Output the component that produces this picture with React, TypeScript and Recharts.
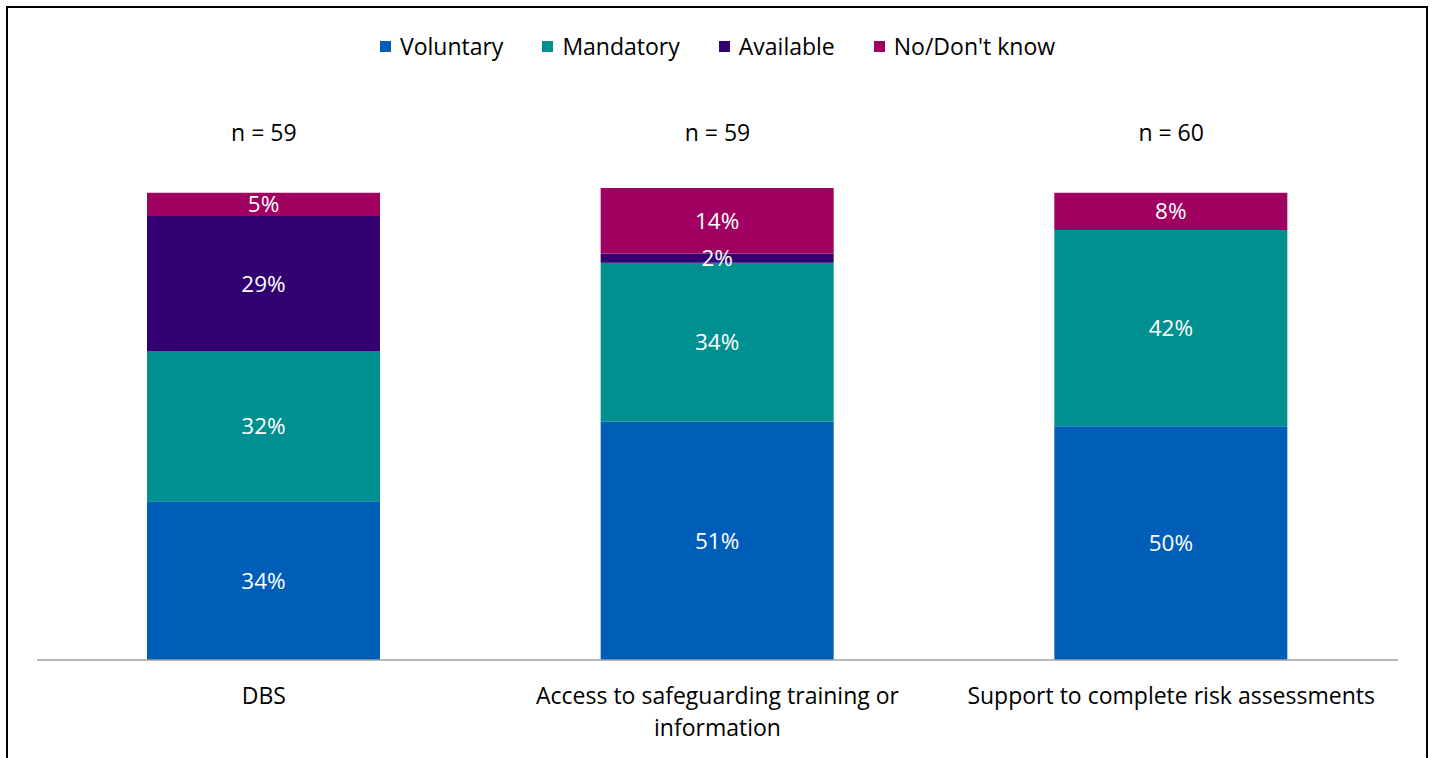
import { BarChart, Bar, XAxis, YAxis, Legend, LabelList } from "recharts";

// Survey results, % of respondents
const categories = [
  "DBS",
  "Access to safeguarding training or information",
  "Support to complete risk assessments",
];
const sampleSizes = ["n = 59", "n = 59", "n = 60"];
const voluntary = [34, 51, 50];
const mandatory = [32, 34, 42];
const available = [29, 2, 0];
const noDontKnow = [5, 14, 8];

const FONT = "'Open Sans', Lato, sans-serif";
const FONT_SIZE = 23;

const SERIES = [
  { key: "voluntary", name: "Voluntary", color: "#005EB8" },
  { key: "mandatory", name: "Mandatory", color: "#00908F" },
  { key: "available", name: "Available", color: "#330072" },
  { key: "noDontKnow", name: "No/Don't know", color: "#A00060" },
];

const data = categories.map((name, i) => ({
  name,
  n: sampleSizes[i],
  voluntary: voluntary[i],
  mandatory: mandatory[i],
  available: available[i],
  noDontKnow: noDontKnow[i],
}));

// greedy word wrap by character count
function wrapWords(text: string, maxChars: number): string[] {
  const lines: string[] = [];
  let cur = "";
  text.split(" ").forEach((w) => {
    const next = cur ? `${cur} ${w}` : w;
    if (next.length > maxChars && cur) {
      lines.push(cur);
      cur = w;
    } else {
      cur = next;
    }
  });
  if (cur) lines.push(cur);
  return lines;
}

function ChartLegend() {
  return (
    <div
      style={{
        height: 76,
        display: "flex",
        justifyContent: "center",
        alignItems: "center",
        gap: 39,
        fontFamily: FONT,
        fontSize: FONT_SIZE,
        color: "#000",
      }}
    >
      {SERIES.map((s) => (
        <div key={s.key} style={{ display: "flex", alignItems: "center", gap: 9 }}>
          <div style={{ width: 11, height: 11, backgroundColor: s.color }} />
          <span>{s.name}</span>
        </div>
      ))}
    </div>
  );
}

function CategoryTick({ x, y, payload }: any) {
  const lines = wrapWords(String(payload.value), 36);
  return (
    <text
      x={x}
      y={y}
      textAnchor="middle"
      fill="#000"
      fontSize={FONT_SIZE}
      fontFamily={FONT}
    >
      {lines.map((line, i) => (
        <tspan key={i} x={x} dy={i === 0 ? "0.71em" : 32}>
          {line}
        </tspan>
      ))}
    </text>
  );
}

const pct = (v: any) => (v ? `${v}%` : "");

export default function App() {
  return (
    <div
      style={{
        position: "absolute",
        left: 6,
        top: 6,
        width: 1422,
        height: 800,
        border: "2px solid #000",
        boxSizing: "border-box",
        background: "#fff",
      }}
    >
      <BarChart
        width={1418}
        height={750}
        data={data}
        margin={{ top: 0, right: 28, bottom: 8, left: 29 }}
      >
        <Legend verticalAlign="top" content={<ChartLegend />} />
        <XAxis
          xAxisId="top"
          dataKey="n"
          orientation="top"
          height={62}
          axisLine={false}
          tickLine={false}
          tickSize={0}
          tickMargin={5}
          tick={{ fontSize: FONT_SIZE, fontFamily: FONT, fill: "#000" }}
        />
        <XAxis
          dataKey="name"
          height={90}
          axisLine={{ stroke: "#A0A0A0", strokeWidth: 1.5 }}
          tickLine={false}
          tickSize={0}
          tickMargin={28}
          tick={<CategoryTick />}
          interval={0}
        />
        <YAxis hide domain={[0, 110]} />
        {SERIES.map((s) => (
          <Bar
            key={s.key}
            dataKey={s.key}
            name={s.name}
            stackId="a"
            fill={s.color}
            barSize={233}
            isAnimationActive={false}
          >
            <LabelList
              dataKey={s.key}
              position="center"
              formatter={pct}
              fill="#fff"
              style={{ fontSize: 22.5, fontFamily: FONT }}
            />
          </Bar>
        ))}
      </BarChart>
    </div>
  );
}
